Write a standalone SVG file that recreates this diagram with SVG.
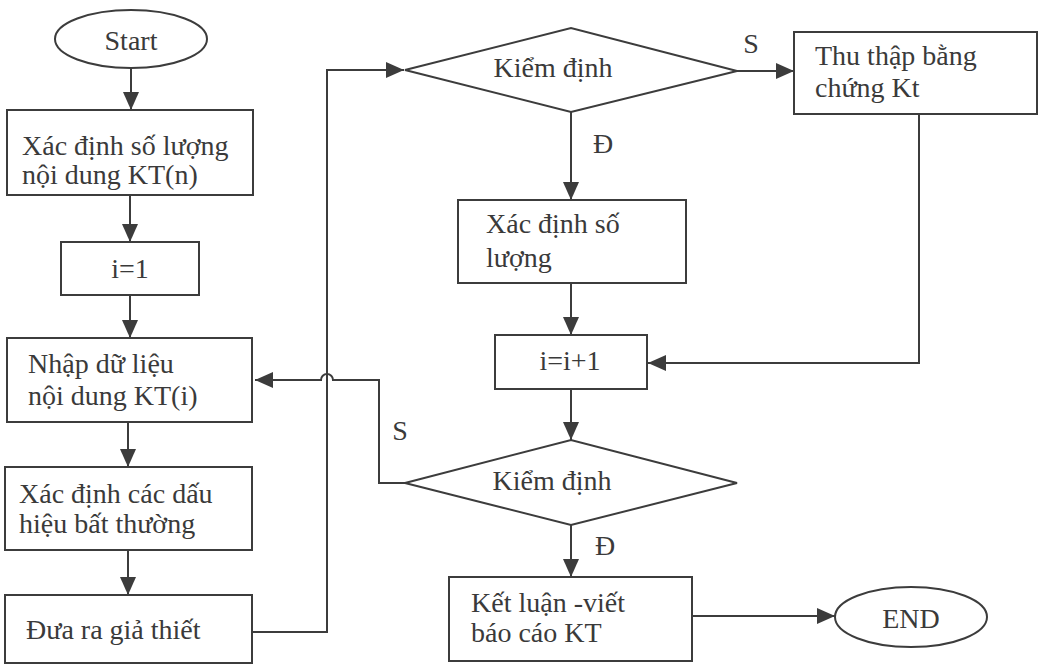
<svg xmlns="http://www.w3.org/2000/svg" width="1040" height="666" viewBox="0 0 1040 666">
<style>
.shape{fill:#fff;stroke:#3c3c3c;stroke-width:2}
.conn{fill:none;stroke:#3c3c3c;stroke-width:2}
text{font-family:"Liberation Serif","Times New Roman",serif;font-size:28px;fill:#3a3a3a}
.c{text-anchor:middle}
</style>
<defs>
<marker id="ah" markerWidth="18" markerHeight="16" refX="18" refY="8" orient="auto" markerUnits="userSpaceOnUse">
<path d="M0,0 L18,8 L0,16 z" fill="#3c3c3c"/>
</marker>
</defs>
<g id="connectors">
<path class="conn" d="M131,68 V110" marker-end="url(#ah)"/>
<path class="conn" d="M130,195 V242" marker-end="url(#ah)"/>
<path class="conn" d="M130,295 V338" marker-end="url(#ah)"/>
<path class="conn" d="M128,422 V467" marker-end="url(#ah)"/>
<path class="conn" d="M128,550 V595" marker-end="url(#ah)"/>
<path class="conn" d="M252,632 H327 V70 H404" marker-end="url(#ah)"/>
<path class="conn" d="M737,71 H794" marker-end="url(#ah)"/>
<path class="conn" d="M571,112 V200" marker-end="url(#ah)"/>
<path class="conn" d="M571,283 V335" marker-end="url(#ah)"/>
<path class="conn" d="M919,114 V363 H648" marker-end="url(#ah)"/>
<path class="conn" d="M571,389 V440" marker-end="url(#ah)"/>
<path class="conn" d="M405,483 H379 V380 H333 A6,6 0 0 0 321,380 H255" marker-end="url(#ah)"/>
<path class="conn" d="M571,525 V577" marker-end="url(#ah)"/>
<path class="conn" d="M692,616 H835" marker-end="url(#ah)"/>
<text x="751" y="53" class="c">S</text>
<text x="603" y="153" class="c">Đ</text>
<text x="400" y="440" class="c">S</text>
<text x="605" y="555" class="c">Đ</text>
</g>
<g id="start">
<ellipse class="shape" cx="131" cy="39" rx="76" ry="29"/>
<text x="131" y="50" class="c">Start</text>
</g>
<g id="xac-dinh-so-luong-noi-dung">
<rect class="shape" x="7" y="110" width="246" height="85"/>
<text x="22" y="155">Xác định số lượng</text>
<text x="22" y="184">nội dung KT(n)</text>
</g>
<g id="i-1">
<rect class="shape" x="61" y="242" width="138" height="53"/>
<text x="130" y="278" class="c">i=1</text>
</g>
<g id="nhap-du-lieu">
<rect class="shape" x="7" y="338" width="245" height="84"/>
<text x="28" y="373">Nhập dữ liệu</text>
<text x="28" y="405">nội dung KT(i)</text>
</g>
<g id="xac-dinh-dau-hieu">
<rect class="shape" x="5" y="467" width="247" height="83"/>
<text x="19" y="503">Xác định các dấu</text>
<text x="19" y="533">hiệu bất thường</text>
</g>
<g id="dua-ra-gia-thiet">
<rect class="shape" x="5" y="595" width="247" height="68"/>
<text x="26" y="639">Đưa ra giả thiết</text>
</g>
<g id="kiem-dinh-1">
<polygon class="shape" points="405,70 571,28 737,71 571,112"/>
<text x="553" y="77" class="c">Kiểm định</text>
</g>
<g id="thu-thap">
<rect class="shape" x="794" y="32" width="243" height="82"/>
<text x="815" y="65">Thu thập bằng</text>
<text x="815" y="97">chứng Kt</text>
</g>
<g id="xac-dinh-so-luong">
<rect class="shape" x="458" y="200" width="228" height="83"/>
<text x="486" y="233">Xác định số</text>
<text x="486" y="267">lượng</text>
</g>
<g id="i-i-1">
<rect class="shape" x="495" y="335" width="152" height="54"/>
<text x="570" y="370" class="c">i=i+1</text>
</g>
<g id="kiem-dinh-2">
<polygon class="shape" points="405,483 571,440 737,483 571,525"/>
<text x="552" y="490" class="c">Kiểm định</text>
</g>
<g id="ket-luan">
<rect class="shape" x="449" y="577" width="243" height="84"/>
<text x="471" y="612">Kết luận -viết</text>
<text x="471" y="642">báo cáo KT</text>
</g>
<g id="end">
<ellipse class="shape" cx="911" cy="617" rx="76" ry="30"/>
<text x="911" y="628" class="c">END</text>
</g>
</svg>
